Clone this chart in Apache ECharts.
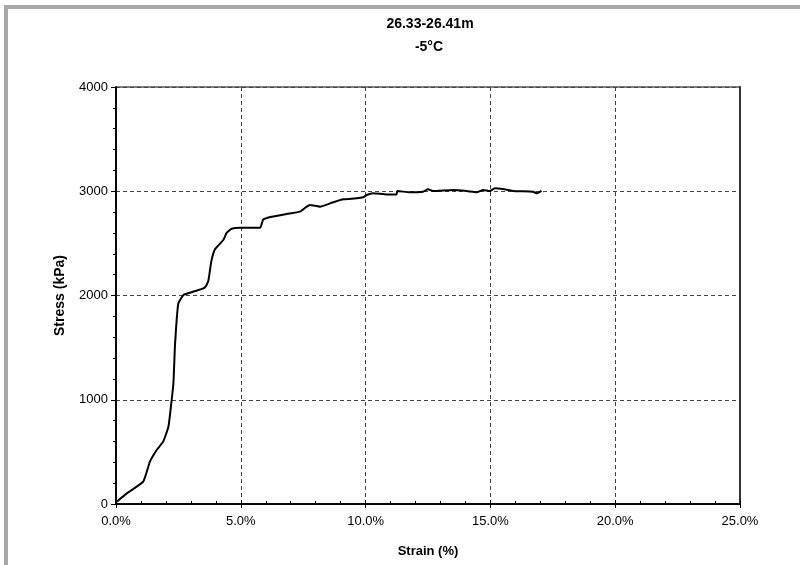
<!DOCTYPE html>
<html>
<head>
<meta charset="utf-8">
<script src="https://cdn.jsdelivr.net/npm/echarts@6/dist/echarts.min.js"></script>
<style>
    html, body { margin: 0; padding: 0; background: #fff; }
    #chart { width: 800px; height: 565px; }
</style>
</head>
<body>
<div id="chart"></div>
<script>
var strain = [0.03, 0.43, 1.09, 1.36, 1.63, 1.89, 2.1, 2.2, 2.3, 2.36, 2.43, 2.5, 2.7, 2.96, 3.37, 3.55, 3.69, 3.74, 3.82, 3.97, 4.3, 4.43, 4.63, 4.97, 5.77, 5.9, 6.24, 6.83, 7.37, 7.64, 7.77, 8.17, 8.7, 9.1, 9.64, 9.9, 10.04, 10.3, 10.84, 11.24, 11.27, 11.78, 12.3, 12.5, 12.7, 13.5, 14.05, 14.45, 14.71, 14.98, 15.18, 15.5, 15.9, 16.7, 16.87, 17.05];
var stress = [22, 102, 214, 406, 518, 598, 741, 933, 1158, 1509, 1765, 1925, 2005, 2027, 2058, 2075, 2133, 2200, 2330, 2445, 2532, 2600, 2640, 2650, 2650, 2730, 2756, 2782, 2804, 2852, 2868, 2852, 2894, 2923, 2932, 2942, 2964, 2980, 2970, 2970, 3002, 2990, 2996, 3019, 3002, 3012, 3002, 2990, 3012, 3002, 3028, 3021, 3002, 2996, 2980, 3005];
var xTicks = [0, 5, 10, 15, 20, 25];
var yTicks = [0, 1000, 2000, 3000, 4000];

var chartTitle = "26.33-26.41m";
var chartSubtitle = "-5°C";

var points = [];
for (var i = 0; i < strain.length; i++) {
    points.push([strain[i], stress[i]]);
}

var font = "Liberation Sans, Arial, sans-serif";

function xAxisBase(extra) {
    var a = {
        type: "value",
        min: xTicks[0],
        max: xTicks[xTicks.length - 1],
        interval: 5,
        position: "bottom",
        axisLine: { show: true, lineStyle: { color: "#000", width: 1.5 } },
        splitLine: { show: false }
    };
    for (var k in extra) a[k] = extra[k];
    return a;
}

function yAxisBase(extra) {
    var a = {
        type: "value",
        min: yTicks[0],
        max: yTicks[yTicks.length - 1],
        interval: 1000,
        position: "left",
        axisLine: { show: true, lineStyle: { color: "#000", width: 1.5 } },
        splitLine: { show: false }
    };
    for (var k in extra) a[k] = extra[k];
    return a;
}

var chart = echarts.init(document.getElementById("chart"));

var option = {
    animation: false,
    backgroundColor: "#fff",
    title: [{
        text: chartTitle,
        left: 425,
        top: 12,
        textAlign: "center",
        textStyle: { fontFamily: font, fontSize: 14, fontWeight: "bold", color: "#000" }
    }, {
        text: chartSubtitle,
        left: 424,
        top: 35,
        textAlign: "center",
        textStyle: { fontFamily: font, fontSize: 14, fontWeight: "bold", color: "#000" }
    }],
    graphic: [
        { type: "rect", shape: { x: 4, y: 5, width: 796, height: 4 }, style: { fill: "#a8a8a8" } },
        { type: "rect", shape: { x: 4, y: 5, width: 4, height: 560 }, style: { fill: "#a8a8a8" } }
    ],
    grid: {
        left: 116,
        right: 60,
        top: 87,
        bottom: 61,
        show: true,
        borderColor: "#000",
        borderWidth: 1
    },
    xAxis: [
        xAxisBase({
            name: "Strain (%)",
            nameLocation: "middle",
            nameGap: 41,
            nameTextStyle: { fontFamily: font, fontSize: 13, fontWeight: "bold", color: "#000" },
            axisTick: { show: true, inside: false, length: 4, lineStyle: { color: "#000" } },
            axisLabel: {
                fontFamily: font, fontSize: 13, color: "#000", margin: 11,
                formatter: function(v) { return v.toFixed(1) + "%"; }
            },
            splitLine: { show: true, lineStyle: { color: "#444", type: [4, 3], width: 1 } }
        }),
        xAxisBase({
            axisTick: { show: true, inside: true, length: 4, lineStyle: { color: "#000" } },
            minorTick: { show: true, splitNumber: 5, length: 3, lineStyle: { color: "#000" } },
            axisLabel: { show: false }
        })
    ],
    yAxis: [
        yAxisBase({
            name: "Stress (kPa)",
            nameLocation: "middle",
            nameGap: 49,
            nameTextStyle: { fontFamily: font, fontSize: 14, fontWeight: "bold", color: "#000" },
            axisTick: { show: true, inside: false, length: 5, lineStyle: { color: "#000" } },
            axisLabel: {
                fontFamily: font, fontSize: 13, color: "#000", margin: 8,
                formatter: function(v) { return String(v); }
            },
            splitLine: { show: true, lineStyle: { color: "#444", type: [4, 3], width: 1 } }
        }),
        yAxisBase({
            axisTick: { show: false },
            minorTick: { show: true, splitNumber: 5, length: 3, lineStyle: { color: "#000" } },
            axisLabel: { show: false }
        }),
        yAxisBase({
            position: "right",
            axisLine: { show: true, lineStyle: { color: "#333", width: 2 } },
            axisTick: { show: false },
            axisLabel: { show: false }
        })
    ],
    series: [{
        type: "line",
        data: points,
        xAxisIndex: 0,
        yAxisIndex: 0,
        showSymbol: false,
        smooth: 0.15,
        lineStyle: { color: "#000", width: 2 }
    }]
};

chart.setOption(option);
</script>
</body>
</html>
